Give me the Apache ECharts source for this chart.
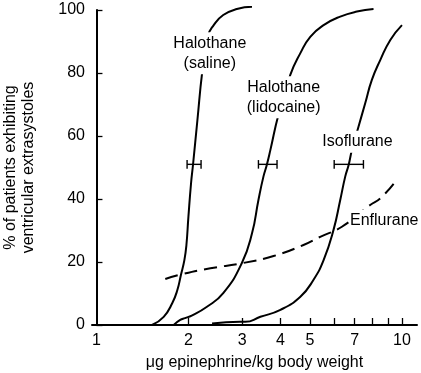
<!DOCTYPE html>
<html>
<head>
<meta charset="utf-8">
<script src="https://cdn.jsdelivr.net/npm/echarts@6/dist/echarts.min.js"></script>
<style>
html,body{margin:0;padding:0;background:#fff;}
#chart{width:421px;height:373px;}
</style>
</head>
<body>
<div id="chart"></div>
<script>
// Dose (μg epinephrine/kg) vs % of patients
const salineX = [1.52, 1.66, 1.77, 1.84, 1.89, 1.94, 1.97, 2.00, 2.04, 2.07, 2.14, 2.22, 2.31, 2.42, 2.60, 2.88, 3.23];
const salineY = [0, 2.6, 6.9, 11.1, 15.9, 20.6, 25.4, 34.4, 45, 50.8, 65, 80.4, 91.5, 95.2, 98.4, 100.3, 101];

const lidoX = [1.79, 1.88, 1.95, 2.05, 2.30, 2.60, 2.99, 3.23, 3.39, 3.52, 3.61, 3.71, 3.94, 4.31, 4.65, 5.01, 5.54, 6.28, 7.12, 8.07];
const lidoY = [0, 1.6, 2.2, 3.0, 5.8, 10.1, 19.6, 29.1, 39.7, 47.1, 50.8, 55.6, 66.7, 79.4, 86.3, 91.5, 95.2, 97.9, 99.5, 100.3];

const isoX = [2.39, 2.95, 3.07, 3.44, 4.00, 4.65, 5.13, 5.54, 5.97, 6.28, 6.52, 6.69, 6.86, 7.21, 7.58, 7.97, 8.49, 9.16, 10.0];
const isoY = [0.5, 1.0, 1.0, 2.6, 4.8, 9.0, 14.3, 20.6, 30.2, 39.7, 47.1, 50.8, 55.6, 63.0, 70.4, 77.8, 84.1, 90.5, 95.2];

const enfluX = [1.68, 1.90, 2.36, 2.99, 3.80, 4.76, 5.40, 6.36, 7.87, 8.49, 9.39];
const enfluY = [14.6, 16.1, 18.0, 19.6, 21.9, 25.4, 28.0, 31.2, 38.1, 40.2, 44.8];

// error bars: [low dose, high dose] at y level
const errLow = [1.98, 3.39, 6.00];
const errHigh = [2.20, 3.90, 7.48];
const errY = [51, 51, 51];

// curve labels
const labelText = ['Halothane\n(saline)', 'Halothane\n(lidocaine)', 'Isoflurane', 'Enflurane'];
const labelX = [2.35, 4.10, 7.15, 8.75];
const labelY = [86.3, 72.3, 58.2, 33.0];

// axis ticks
const xTickValues = [2, 3, 4, 5, 6, 7, 8, 9, 10];
const xLabelValues = [1, 2, 3, 4, 5, 7, 10];
const xMin = 0.967, xMax = 11.2;

const L = Math.log10;
const pts = (xs, ys) => xs.map((x, i) => [L(x), ys[i]]);
const FONT = "'Liberation Sans', Arial, Helvetica, sans-serif";

const lineSeries = (name, data, dashed) => ({
  name: name,
  type: 'line',
  data: data,
  smooth: 0.5,
  showSymbol: false,
  symbol: 'none',
  clip: false,
  z: 2,
  lineStyle: { color: '#000', width: 2, type: dashed ? [13, 7] : 'solid', cap: 'butt' }
});

const chart = echarts.init(document.getElementById('chart'), null, { renderer: 'canvas' });
chart.setOption({
  animation: false,
  backgroundColor: '#fff',
  textStyle: { fontFamily: FONT, color: '#000' },
  grid: { left: 92, right: 4, top: 10, bottom: 48, containLabel: false, outerBoundsMode: 'none' },
  xAxis: {
    type: 'value',
    min: L(xMin),
    max: L(xMax),
    splitLine: { show: false },
    axisLine: { show: true, onZero: false, lineStyle: { color: '#000', width: 2 } },
    axisTick: {
      show: true, inside: true, length: 7,
      customValues: xTickValues.map(L),
      lineStyle: { color: '#000', width: 1.3 }
    },
    axisLabel: {
      show: true, margin: 8, fontSize: 16, color: '#000', fontFamily: FONT,
      customValues: xLabelValues.map(L),
      formatter: v => String(Math.round(Math.pow(10, v)))
    },
    name: 'μg epinephrine/kg body weight',
    nameLocation: 'middle',
    nameGap: 30,
    nameTextStyle: { fontSize: 16, color: '#000', fontFamily: FONT }
  },
  yAxis: {
    type: 'value',
    min: 0, max: 100, interval: 20,
    splitLine: { show: false },
    axisLine: { show: true, lineStyle: { color: '#000', width: 2 } },
    axisTick: { show: true, inside: true, length: 6, lineStyle: { color: '#000', width: 1.3 } },
    axisLabel: { margin: 7, fontSize: 16, color: '#000', fontFamily: FONT },
    name: '% of patients exhibiting\nventricular extrasystoles',
    nameLocation: 'middle',
    nameRotate: 90,
    nameGap: 54,
    nameTextStyle: { fontSize: 16, lineHeight: 18, color: '#000', fontFamily: FONT, align: 'center' }
  },
  series: [
    lineSeries('Halothane (saline)', pts(salineX, salineY), false),
    lineSeries('Halothane (lidocaine)', pts(lidoX, lidoY), false),
    lineSeries('Isoflurane', pts(isoX, isoY), false),
    lineSeries('Enflurane', pts(enfluX, enfluY), true),
    {
      type: 'custom',
      z: 3,
      encode: { x: [0, 2], y: 1 },
      data: errLow.map((lo, i) => [L(lo), errY[i], L(errHigh[i])]),
      renderItem: function (params, api) {
        const lo = api.value(0), y = api.value(1), hi = api.value(2);
        const a = api.coord([lo, y]), b = api.coord([hi, y]);
        const h = 4.3;
        const st = { stroke: '#000', lineWidth: 1.4 };
        return {
          type: 'group',
          children: [
            { type: 'line', shape: { x1: a[0], y1: a[1], x2: b[0], y2: b[1] }, style: st },
            { type: 'line', shape: { x1: a[0], y1: a[1] - h, x2: a[0], y2: a[1] + h }, style: st },
            { type: 'line', shape: { x1: b[0], y1: b[1] - h, x2: b[0], y2: b[1] + h }, style: st }
          ]
        };
      }
    },
    {
      type: 'scatter',
      z: 10,
      symbolSize: 0,
      silent: true,
      itemStyle: { opacity: 1 },
      data: labelText.map((t, i) => ({ value: [L(labelX[i]), labelY[i]], name: t })),
      label: {
        show: true,
        position: 'inside',
        formatter: p => p.name,
        fontSize: 16,
        lineHeight: 20,
        color: '#000',
        opacity: 1,
        fontFamily: FONT,
        align: 'center',
        verticalAlign: 'middle',
        backgroundColor: '#fff',
        padding: [1, 1]
      }
    }
  ]
});
</script>
</body>
</html>
